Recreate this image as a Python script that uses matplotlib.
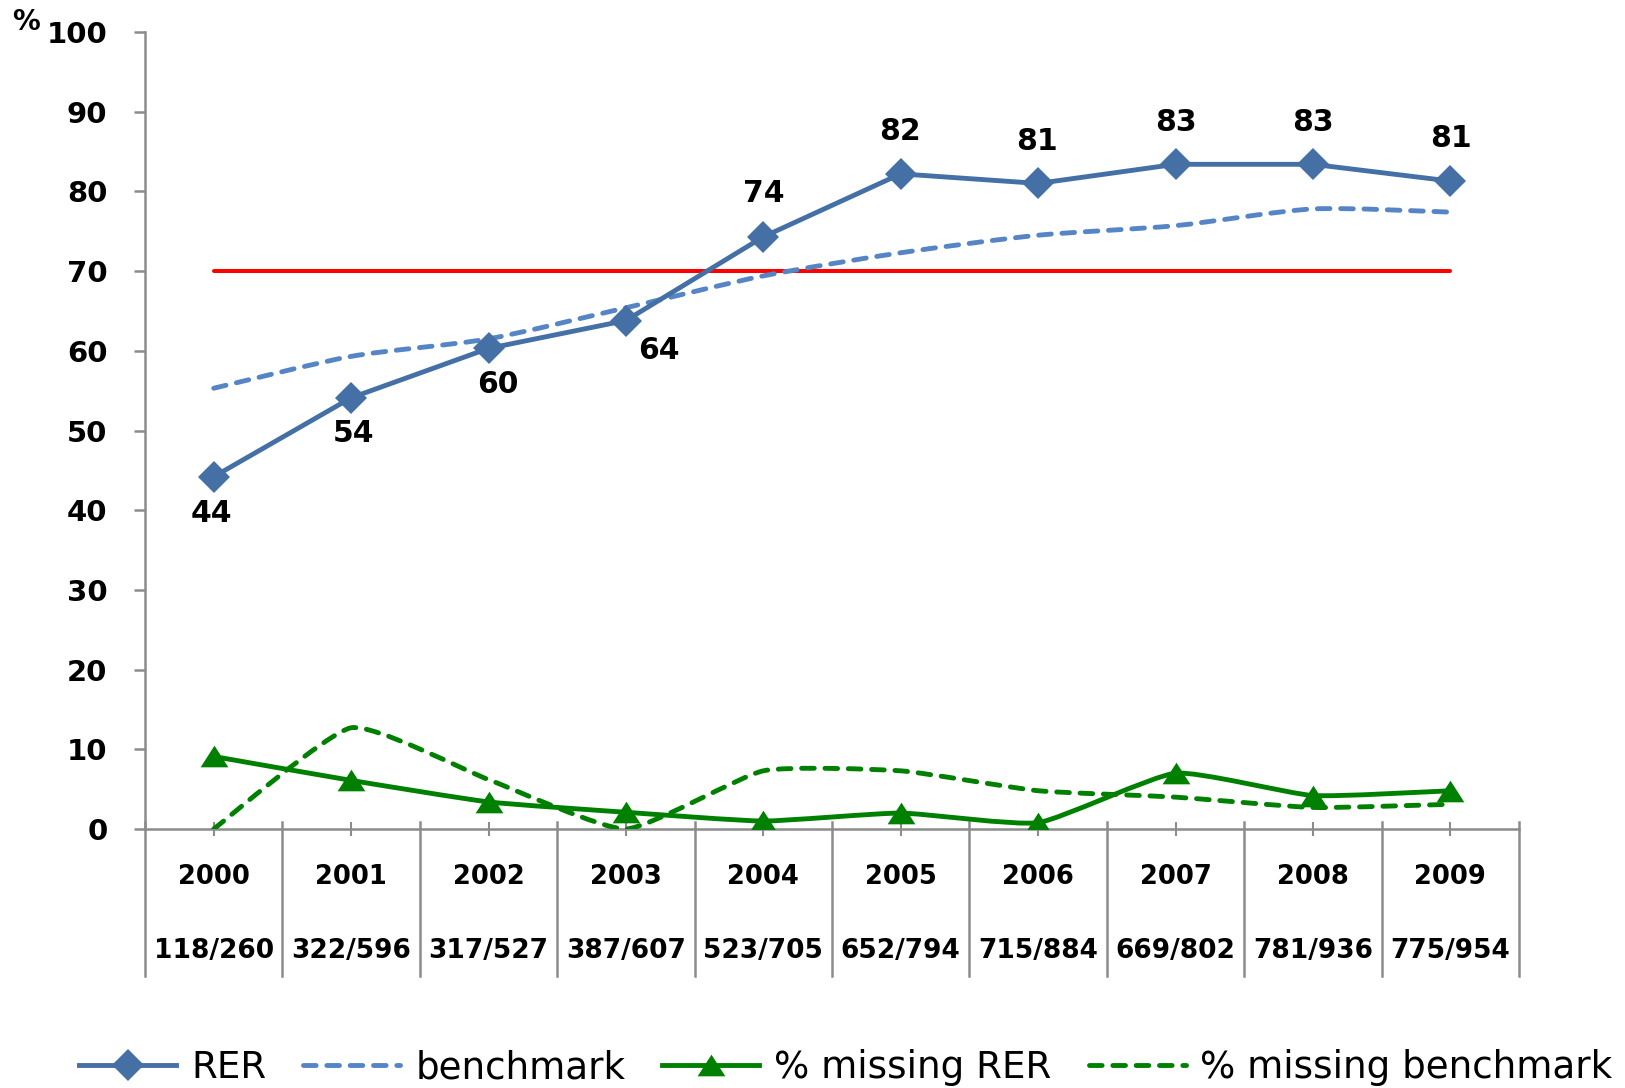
import matplotlib
matplotlib.use("Agg")
import matplotlib.pyplot as plt
from matplotlib.path import Path
from matplotlib.patches import PathPatch
from matplotlib.lines import Line2D
import matplotlib.transforms as mtransforms

# ---- data -------------------------------------------------------------
years = ["2000", "2001", "2002", "2003", "2004", "2005", "2006", "2007", "2008", "2009"]
counts = ["118/260", "322/596", "317/527", "387/607", "523/705",
          "652/794", "715/884", "669/802", "781/936", "775/954"]
rer = [44.2, 54.1, 60.3, 63.8, 74.3, 82.2, 81.0, 83.4, 83.4, 81.3]
benchmark = [55.3, 59.3, 61.5, 65.4, 69.4, 72.3, 74.5, 75.7, 77.8, 77.4]
missing_rer = [9.1, 6.1, 3.4, 2.1, 1.0, 2.0, 0.8, 7.0, 4.2, 4.8]
missing_benchmark = [0.0, 12.7, 6.2, 0.0, 7.3, 7.3, 4.8, 4.0, 2.7, 3.1]
target = 70

# label offsets (pixels) for the RER value labels
label_offsets = [(-2, -37), (2, -36), (9, -36), (33, -30), (0, 43),
                 (-1, 42), (-1, 42), (0, 42), (0, 42), (1, 43)]

BLUE = "#4470A6"
LIGHT_BLUE = "#5585C5"
GREEN = "#008000"
RED = "#FF0000"
GRAY = "#8C8C8C"

W, H = 1625, 1088
fig = plt.figure(figsize=(W / 100, H / 100), dpi=100)
ax = fig.add_axes([145 / W, 1 - 829 / H, (1519 - 145) / W, (829 - 32) / H])

x = list(range(len(years)))


def smooth_path(xs, ys, k=1 / 12):
    """Lightly smoothed Bezier path through the points."""
    n = len(xs)
    verts = [(xs[0], ys[0])]
    codes = [Path.MOVETO]
    for i in range(n - 1):
        p0 = (xs[i - 1], ys[i - 1]) if i > 0 else (xs[i], ys[i])
        p1 = (xs[i], ys[i])
        p2 = (xs[i + 1], ys[i + 1])
        p3 = (xs[i + 2], ys[i + 2]) if i + 2 < n else p2
        c1 = (p1[0] + (p2[0] - p0[0]) * k, p1[1] + (p2[1] - p0[1]) * k)
        c2 = (p2[0] - (p3[0] - p1[0]) * k, p2[1] - (p3[1] - p1[1]) * k)
        verts += [c1, c2, p2]
        codes += [Path.CURVE4] * 3
    return Path(verts, codes)


dash_b = (0, (2.6, 2.2))
LW_MAIN = 3.5
LW_DASH = 3.5
MS_DIAMOND = 16
MS_TRI = 20

# target line
ax.plot([x[0], x[-1]], [target, target], color=RED, lw=2.9, solid_capstyle="round", zorder=2)

# benchmark (smoothed, dashed)
ax.add_patch(PathPatch(smooth_path(x, benchmark, 1 / 8), fill=False, edgecolor=LIGHT_BLUE,
                       lw=LW_DASH, linestyle=dash_b, capstyle="round", zorder=3))
# % missing benchmark (smoothed, dashed)
ax.add_patch(PathPatch(smooth_path(x, missing_benchmark), fill=False, edgecolor=GREEN,
                       lw=LW_DASH, linestyle=dash_b, capstyle="round", zorder=3))
# % missing RER (line + triangles)
ax.add_patch(PathPatch(smooth_path(x, missing_rer), fill=False, edgecolor=GREEN,
                       lw=LW_MAIN, capstyle="round", joinstyle="round", zorder=4))
tri = Path([(0, 0.78), (-1, -0.78), (1, -0.78), (0, 0.78)],
           [Path.MOVETO, Path.LINETO, Path.LINETO, Path.CLOSEPOLY])
ax.plot(x, missing_rer, linestyle="none", marker=tri, markersize=MS_TRI,
        color=GREEN, markeredgewidth=0, zorder=5)

# RER
ax.plot(x, rer, color=BLUE, lw=LW_MAIN, marker="D", markersize=MS_DIAMOND,
        markeredgewidth=0, solid_joinstyle="round", zorder=6)

for xi, v, (dx, dy) in zip(x, rer, label_offsets):
    ax.annotate(f"{v:.0f}", (xi, v), xytext=(dx, dy), textcoords="offset pixels",
                ha="center", va="center", fontsize=21.5, fontweight="bold",
                color="black", zorder=7)

# axes styling
ax.set_xlim(-0.5, len(years) - 0.5)
ax.set_ylim(0, 100)
ax.set_yticks(range(0, 101, 10))
ax.set_yticklabels([str(v) for v in range(0, 101, 10)], fontsize=21, fontweight="bold")
ax.set_xticks(x)
ax.set_xticklabels([])
for side in ("top", "right"):
    ax.spines[side].set_visible(False)
for side in ("left", "bottom"):
    ax.spines[side].set_color(GRAY)
    ax.spines[side].set_linewidth(1.8)
ax.tick_params(axis="y", direction="out", length=8, width=1.8, color=GRAY, pad=19)
ax.tick_params(axis="x", direction="inout", length=9.5, width=1.5, color=GRAY)

# "%" unit label
fig.text(26 / W, 1 - 22 / H, "%", ha="center", va="center", fontsize=20, fontweight="bold")

# category table below the axis
trans = mtransforms.blended_transform_factory(ax.transData, ax.transAxes)
ax_h = 829 - 32
for k in range(len(years) + 1):
    ax.plot([k - 0.5, k - 0.5], [7 / ax_h, -(976 - 829) / ax_h], transform=trans,
            color=GRAY, lw=1.8, clip_on=False, zorder=1)
for xi, yr, c in zip(x, years, counts):
    ax.text(xi, -(877 - 829) / ax_h, yr, transform=trans, ha="center", va="center",
            fontsize=18.5, fontweight="bold")
    ax.text(xi, -(951 - 829) / ax_h, c, transform=trans, ha="center", va="center",
            fontsize=19, fontweight="bold")

# legend
handles = [
    Line2D([], [], color=BLUE, lw=LW_MAIN, marker="D", markersize=MS_DIAMOND,
           markeredgewidth=0),
    Line2D([], [], color=LIGHT_BLUE, lw=LW_DASH, linestyle=dash_b, dash_capstyle="round"),
    Line2D([], [], color=GREEN, lw=LW_MAIN, marker=tri, markersize=MS_TRI,
           markeredgewidth=0),
    Line2D([], [], color=GREEN, lw=LW_DASH, linestyle=dash_b, dash_capstyle="round"),
]
labels = ["RER", "benchmark", "% missing RER", "% missing benchmark"]
fig.legend(handles, labels, loc="center", bbox_to_anchor=(846 / W, 1 - 1068 / H),
           ncol=4, frameon=False, fontsize=26.8, handlelength=2.6, handletextpad=0.4,
           columnspacing=1.0, borderpad=0, borderaxespad=0)

fig.savefig("out.png", dpi=100)
